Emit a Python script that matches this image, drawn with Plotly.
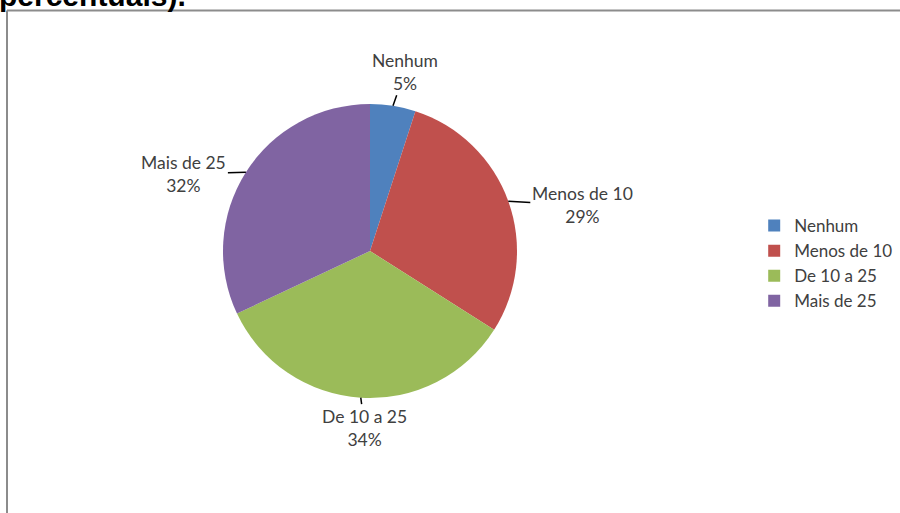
import math
import plotly.graph_objects as go

categories = ["Nenhum", "Menos de 10", "De 10 a 25", "Mais de 25"]
values = [5, 29, 34, 32]
colors = ["#4F81BD", "#C0504D", "#9BBB59", "#8064A2"]
title_text = "percentuais)."

W, H = 900, 513
cx, cy, r = 370, 251, 147  # pixel centre / radius of the pie

# label text offsets (pixels) relative to the slice's edge point
offsets = [(12, -34), (74, 4), (4, 30), (-62, 2)]

fig = go.Figure()
fig.add_trace(go.Pie(
    labels=categories,
    values=values,
    marker=dict(colors=colors, line=dict(width=0)),
    sort=False,
    direction="clockwise",
    rotation=0,
    textinfo="none",
    hoverinfo="label+percent",
    domain=dict(x=[(cx - r) / W, (cx + r) / W],
                y=[(H - cy - r) / H, (H - cy + r) / H]),
))

total = sum(values)
cum = 0
annotations = []
for cat, v, (ax, ay) in zip(categories, values, offsets):
    mid = (cum + v / 2) / total * 2 * math.pi
    cum += v
    px = cx + r * math.sin(mid)
    py = cy - r * math.cos(mid)
    annotations.append(dict(
        x=px / W, y=1 - py / H, xref="paper", yref="paper",
        text=f"{cat}<br>{round(v / total * 100)}%",
        showarrow=True, arrowhead=0, arrowwidth=1.5, arrowcolor="#000000",
        ax=ax, ay=ay, align="center",
        font=dict(family="Lato", size=17.5, color="#404040"),
    ))

annotations.append(dict(
    x=-0.003, y=1 - 14 / H, xref="paper", yref="paper",
    xanchor="left", yanchor="bottom", showarrow=False,
    text=f"<b>{title_text}</b>",
    font=dict(family="Liberation Sans", size=30, color="#000000"),
))

fig.update_layout(
    width=W, height=H,
    margin=dict(l=0, r=0, t=0, b=0, autoexpand=False),
    paper_bgcolor="white", plot_bgcolor="white",
    showlegend=True,
    legend=dict(x=0.838, y=1 - 208 / H, xanchor="left", yanchor="top",
                font=dict(family="Lato", size=17, color="#404040"),
                bgcolor="rgba(0,0,0,0)"),
    annotations=annotations,
    shapes=[
        dict(type="line", xref="paper", yref="paper",
             x0=7 / W, x1=1, y0=1 - 10.5 / H, y1=1 - 10.5 / H,
             line=dict(color="#8C8C8C", width=2), layer="below"),
        dict(type="line", xref="paper", yref="paper",
             x0=7 / W, x1=7 / W, y0=0, y1=1 - 10.5 / H,
             line=dict(color="#8C8C8C", width=2), layer="below"),
    ],
)

fig.write_html("out.html",
               config={"displayModeBar": False},
               post_script="document.body.style.margin='0';document.body.style.overflow='hidden';")
